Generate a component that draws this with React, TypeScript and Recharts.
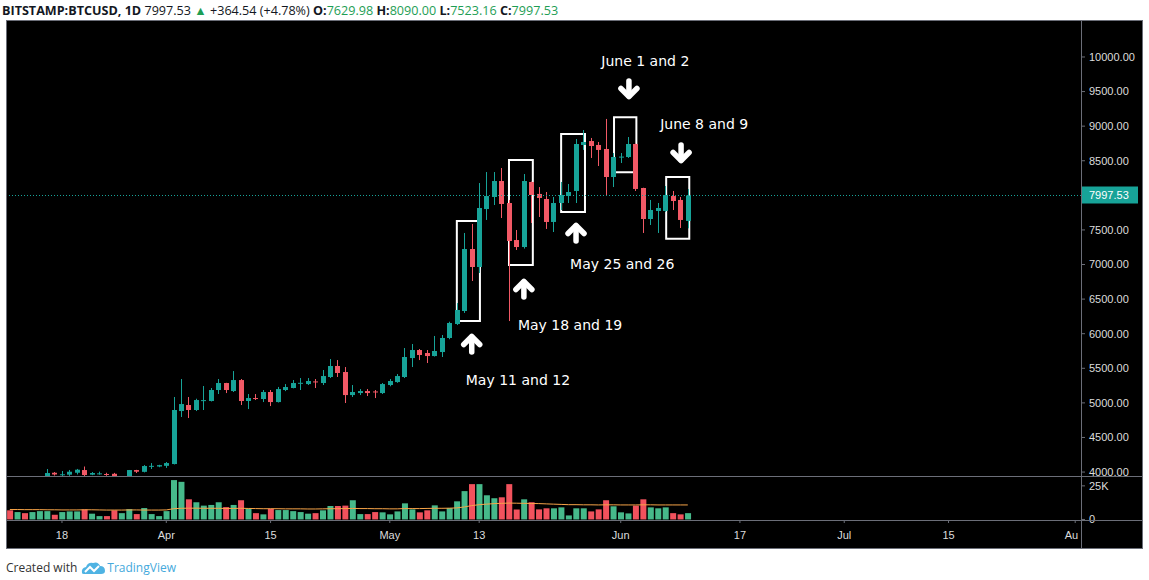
import React from "react";
import {
  ComposedChart,
  Bar,
  Line,
  Cell,
  XAxis,
  YAxis,
  ReferenceArea,
  ReferenceDot,
  ReferenceLine,
} from "recharts";

// daily candles, BITSTAMP:BTCUSD, 2019
const DATES = [
  "03-11", "03-12", "03-13", "03-14", "03-15", "03-16", "03-17", "03-18", "03-19", "03-20",
  "03-21", "03-22", "03-23", "03-24", "03-25", "03-26", "03-27", "03-28", "03-29", "03-30",
  "03-31", "04-01", "04-02", "04-03", "04-04", "04-05", "04-06", "04-07", "04-08", "04-09",
  "04-10", "04-11", "04-12", "04-13", "04-14", "04-15", "04-16", "04-17", "04-18", "04-19",
  "04-20", "04-21", "04-22", "04-23", "04-24", "04-25", "04-26", "04-27", "04-28", "04-29",
  "04-30", "05-01", "05-02", "05-03", "05-04", "05-05", "05-06", "05-07", "05-08", "05-09",
  "05-10", "05-11", "05-12", "05-13", "05-14", "05-15", "05-16", "05-17", "05-18", "05-19",
  "05-20", "05-21", "05-22", "05-23", "05-24", "05-25", "05-26", "05-27", "05-28", "05-29",
  "05-30", "05-31", "06-01", "06-02", "06-03", "06-04", "06-05", "06-06", "06-07", "06-08",
  "06-09", "06-10",
];

const OPEN = [
  3920, 3870, 3880, 3865, 3870, 3915, 3990, 3960, 3962, 3990,
  4029, 3962, 3975, 3972, 3975, 3905, 3925, 4029, 4003, 4085,
  4080, 4090, 4116, 4882, 4969, 4897, 5030, 5027, 5186, 5287,
  5171, 5330, 5027, 5070, 5056, 5157, 5012, 5186, 5215, 5280,
  5272, 5310, 5287, 5374, 5533, 5446, 5113, 5142, 5171, 5165,
  5142, 5258, 5301, 5374, 5648, 5764, 5721, 5677, 5735, 5938,
  6140, 6328, 7224, 6964, 7802, 7976, 8207, 7889, 7354, 7253,
  8193, 8020, 7947, 7615, 7889, 7990, 8063, 8728, 8785, 8728,
  8670, 8265, 8554, 8554, 8742, 8106, 7658, 7774, 7774, 7990,
  7933, 7629.98,
];
const HIGH = [
  3925, 3900, 3890, 3925, 3930, 4044, 4000, 4015, 4030, 4045,
  4080, 4000, 4006, 3990, 3988, 3935, 4030, 4032, 4101, 4130,
  4105, 4145, 5085, 5345, 5085, 5060, 5244, 5215, 5345, 5290,
  5460, 5345, 5128, 5128, 5186, 5186, 5230, 5272, 5330, 5359,
  5359, 5345, 5475, 5634, 5619, 5518, 5258, 5200, 5200, 5186,
  5287, 5345, 5417, 5793, 5851, 5778, 5764, 5967, 5981, 6173,
  6443, 7456, 7586, 8178, 8337, 8337, 8395, 7933, 7499, 8308,
  8200, 8120, 8048, 7976, 8193, 8164, 8814, 8944, 8829, 8771,
  9104, 8612, 8612, 8843, 8750, 8110, 7933, 7889, 8135, 8063,
  7976, 8090,
];
const LOW = [
  3850, 3830, 3850, 3820, 3865, 3910, 3950, 3940, 3945, 3965,
  3940, 3955, 3962, 3945, 3880, 3890, 3920, 3986, 3995, 4044,
  4070, 4060, 4110, 4796, 4781, 4882, 4897, 5020, 5128, 5142,
  5157, 4969, 4911, 5041, 5012, 4954, 5005, 5170, 5210, 5186,
  5258, 5215, 5258, 5359, 5374, 4998, 5085, 5113, 5099, 5070,
  5128, 5240, 5290, 5359, 5518, 5619, 5576, 5670, 5663, 5920,
  6125, 6300, 6762, 6877, 7644, 7860, 7672, 6183, 7210, 7230,
  7600, 7687, 7514, 7470, 7788, 7889, 7889, 8656, 8540, 8424,
  8005, 8120, 8467, 8540, 8063, 7456, 7571, 7456, 7760, 7788,
  7528, 7523.16,
];
const CLOSE = [
  3870, 3880, 3865, 3870, 3915, 3986, 3965, 3968, 4005, 4034,
  3957, 3986, 3981, 3966, 3905, 3925, 4029, 4005, 4087, 4090,
  4100, 4130, 4897, 4983, 4897, 5041, 5040, 5186, 5287, 5186,
  5330, 5027, 5070, 5060, 5157, 5012, 5200, 5229, 5287, 5290,
  5316, 5300, 5388, 5533, 5432, 5113, 5157, 5171, 5142, 5155,
  5272, 5316, 5388, 5663, 5764, 5692, 5677, 5750, 5938, 6155,
  6343, 7224, 6964, 7817, 7990, 8207, 7875, 7340, 7253, 8207,
  8005, 7962, 7615, 7889, 8005, 8048, 8742, 8771, 8713, 8656,
  8265, 8554, 8560, 8742, 8092, 7658, 7788, 7817, 8005, 7918,
  7644, 7997.53,
];
// volume in thousands
const VOLUME = [
  6.8, 5.5, 4.7, 5.5, 6.2, 6.2, 3.5, 5.5, 6.0, 6.0,
  7.5, 4.3, 2.5, 2.5, 6.8, 4.7, 7.7, 4.0, 8.5, 4.0,
  2.5, 6.2, 29.3, 28.0, 15.0, 12.8, 10.3, 10.8, 12.8, 9.2,
  10.8, 14.3, 8.0, 4.7, 3.8, 8.0, 7.0, 7.0, 6.2, 5.5,
  4.3, 4.7, 6.8, 10.0, 10.0, 10.3, 14.3, 4.0, 4.0, 5.5,
  5.3, 3.8, 6.0, 12.0, 7.5, 5.3, 6.8, 10.5, 6.0, 8.5,
  13.5, 21.1, 26.3, 26.3, 18.0, 15.8, 16.5, 26.3, 7.5, 15.0,
  12.8, 7.5, 8.3, 8.3, 9.0, 3.0, 8.3, 8.3, 6.0, 7.5,
  14.3, 9.8, 5.3, 4.5, 10.3, 15.0, 9.0, 8.3, 9.0, 4.7,
  3.8, 4.7,
];
const VOLUME_MA = [
  7.4, 7.4, 7.3, 7.3, 7.3, 7.2, 7.2, 7.1, 7.1, 7.1,
  7.2, 7.2, 7.1, 7.0, 7.0, 7.0, 7.1, 7.1, 7.0, 7.0,
  7.0, 7.1, 8.0, 8.3, 8.4, 8.4, 8.3, 8.3, 8.3, 8.2,
  8.2, 8.3, 8.2, 8.1, 8.0, 8.0, 8.0, 7.9, 7.9, 7.9,
  7.8, 7.8, 7.9, 8.0, 8.0, 8.1, 8.2, 8.1, 8.1, 8.0,
  8.0, 7.9, 7.9, 8.1, 8.1, 8.1, 8.2, 8.3, 8.3, 8.4,
  8.6, 9.3, 10.3, 11.0, 11.4, 11.8, 12.0, 12.2, 12.1, 12.0,
  11.9, 11.8, 11.6, 11.4, 11.2, 11.0, 11.0, 10.9, 10.9, 10.8,
  10.9, 10.9, 10.8, 10.8, 10.8, 10.9, 10.9, 10.8, 10.8, 10.8,
  10.8, 10.8,
];

const LAST_CLOSE = 7997.53;
const PRICE_TICKS = [4000, 4500, 5000, 5500, 6000, 6500, 7000, 7500, 8500, 9000, 9500, 10000];
const VOLUME_TICKS = [0, 25];
const X_TICK_DATES = ["03-18", "04-01", "04-15", "05-01", "05-13", "06-01", "06-17", "07-01", "07-15", "08-01"];
const X_TICK_LABELS = ["18", "Apr", "15", "May", "13", "Jun", "17", "Jul", "15", "Au"];

// annotations (x in days from Mar 18, y in USD)
const BOXES = [
  { x1: 53.0, x2: 56.1, y1: 6183, y2: 7629 },
  { x1: 60.0, x2: 63.2, y1: 6993, y2: 8511 },
  { x1: 67.0, x2: 70.2, y1: 7759, y2: 8887 },
  { x1: 74.1, x2: 77.1, y1: 8333, y2: 9128 },
  { x1: 81.1, x2: 84.2, y1: 7373, y2: 8265 },
];
const ARROWS = [
  { x: 55.0, y: 5851, dir: "up" },
  { x: 62.0, y: 6646, dir: "up" },
  { x: 69.0, y: 7456, dir: "up" },
  { x: 76.1, y: 9537, dir: "down" },
  { x: 83.1, y: 8612, dir: "down" },
];
const NOTES = [
  { x: 61.2, y: 5330, text: "May 11 and 12" },
  { x: 68.2, y: 6125, text: "May 18 and 19" },
  { x: 75.2, y: 7007, text: "May 25 and 26" },
  { x: 78.3, y: 9942, text: "June 1 and 2" },
  { x: 86.2, y: 9031, text: "June 8 and 9" },
];

const UP = "#17a398";
const DOWN = "#f25966";
const VOL_UP = "#46b98a";
const VOL_DOWN = "#f2525d";
const GRID = "#6b6e78";
const AXIS_TEXT = "#dcdcdc";
const AXIS_FONT = '"Liberation Sans", Arial, sans-serif';

const X_DOMAIN: [number, number] = [-7.38, 136.78];
const PRICE_DOMAIN: [number, number] = [3943, 10520];
const VOLUME_DOMAIN: [number, number] = [-0.4, 31.6];

const dayIndex = (md: string) => {
  const [m, d] = md.split("-").map(Number);
  return (Date.UTC(2019, m - 1, d) - Date.UTC(2019, 2, 18)) / 86_400_000;
};

const rows = DATES.map((date, i) => ({
  d: dayIndex(date),
  range: [LOW[i], HIGH[i]],
  o: OPEN[i],
  h: HIGH[i],
  l: LOW[i],
  c: CLOSE[i],
  vol: VOLUME[i],
  ma: VOLUME_MA[i],
}));

const X_TICKS = X_TICK_DATES.map(dayIndex);

function Candle(props: any) {
  const { x, y, width, height, payload } = props;
  if (x == null || y == null || !payload) return null;
  const { o, h, l, c } = payload;
  const color = c >= o ? UP : DOWN;
  const k = h > l ? height / (h - l) : 0;
  const yAt = (v: number) => y + (h - v) * k;
  const top = yAt(Math.max(o, c));
  const bot = yAt(Math.min(o, c));
  const cx = Math.round(x + width / 2) + 0.5;
  return (
    <g>
      <line x1={cx} x2={cx} y1={y} y2={y + height} stroke={color} strokeWidth={1} />
      <rect x={cx - 2.5} y={top} width={5} height={Math.max(1, bot - top)} fill={color} />
    </g>
  );
}

function PriceTick(props: any) {
  const { x, y, payload } = props;
  const v = payload.value;
  if (v === LAST_CLOSE) {
    return (
      <g>
        <rect x={x - 8} y={y - 9} width={57} height={17} fill={UP} />
        <text x={x} y={y} dy="0.35em" fill="#ffffff" fontSize={11} fontFamily={AXIS_FONT}>
          {v.toFixed(2)}
        </text>
      </g>
    );
  }
  return (
    <text x={x} y={y} dy="0.35em" fill={AXIS_TEXT} fontSize={11} fontFamily={AXIS_FONT}>
      {v.toFixed(2)}
    </text>
  );
}

function VolumeTick(props: any) {
  const { x, y, payload } = props;
  return (
    <text x={x} y={y} dy="0.35em" fill={AXIS_TEXT} fontSize={11} fontFamily={AXIS_FONT}>
      {payload.value === 0 ? "0" : `${payload.value}K`}
    </text>
  );
}

function DateTick(props: any) {
  const { x, y, payload, index } = props;
  const last = index === X_TICKS.length - 1;
  return (
    <text
      x={last ? x + 3 : x}
      y={y}
      dy="0.71em"
      textAnchor={last ? "end" : "middle"}
      fill={AXIS_TEXT}
      fontSize={11}
      fontFamily={AXIS_FONT}
    >
      {X_TICK_LABELS[X_TICKS.indexOf(payload.value)]}
    </text>
  );
}

function Arrow(props: any) {
  const { cx, cy, dir } = props;
  if (cx == null || cy == null) return null;
  const s = dir === "up" ? 1 : -1;
  return (
    <g stroke="#ffffff" strokeWidth={5.5} strokeLinecap="round" strokeLinejoin="round" fill="none">
      <polyline points={`${cx - 8},${cy + s * 0.5} ${cx},${cy - s * 7.5} ${cx + 8},${cy + s * 0.5}`} />
      <line x1={cx} y1={cy - s * 7} x2={cx} y2={cy + s * 8} />
    </g>
  );
}

function Note(props: any) {
  const { cx, cy, text } = props;
  if (cx == null || cy == null) return null;
  return (
    <text
      x={cx}
      y={cy}
      textAnchor="middle"
      dominantBaseline="central"
      fill="#ffffff"
      fontSize={14}
      fontFamily='"DejaVu Sans", sans-serif'
    >
      {text}
    </text>
  );
}

function Header() {
  const green = "#1e9e55";
  return (
    <div
      style={{
        position: "absolute",
        left: 2,
        top: 2,
        fontFamily: '"Open Sans", sans-serif',
        fontSize: 12.6,
        color: "#131722",
        whiteSpace: "nowrap",
        lineHeight: "17px",
      }}
    >
      <b>BITSTAMP:BTCUSD, 1D</b> 7997.53 <span style={{ color: green }}>▲</span> +364.54 (+4.78%){" "}
      <b>O:</b><span style={{ color: green }}>7629.98</span> <b>H:</b>
      <span style={{ color: green }}>8090.00</span> <b>L:</b>
      <span style={{ color: green }}>7523.16</span> <b>C:</b>
      <span style={{ color: green }}>7997.53</span>
    </div>
  );
}

function Footer() {
  return (
    <div
      style={{
        position: "absolute",
        left: 6,
        top: 559,
        display: "flex",
        alignItems: "center",
        fontFamily: '"Open Sans", sans-serif',
        fontSize: 12,
        color: "#333",
        whiteSpace: "nowrap",
      }}
    >
      <span>Created with</span>
      <svg width={26} height={16} style={{ marginLeft: 3, marginRight: 1 }}>
        <path
          d="M2 13 Q1 8 6 7 Q8 2 13 3 Q18 1 20 6 Q25 6 25 11 Q25 14 21 14 L4 14 Q2 14 2 13 Z"
          fill="#4fb3e3"
        />
        <polyline points="5,12 10,7 14,11 19,6" stroke="#ffffff" strokeWidth={2} fill="none" />
      </svg>
      <span style={{ color: "#45a9dc" }}>TradingView</span>
    </div>
  );
}

export default function App() {
  return (
    <div
      style={{
        position: "absolute",
        left: 0,
        top: 0,
        width: 1149,
        height: 580,
        background: "#ffffff",
        overflow: "hidden",
      }}
    >
      <Header />
      <div style={{ position: "absolute", left: 7, top: 21, width: 1135, height: 527, background: "#000000" }}>
        {/* price pane */}
        <div style={{ position: "absolute", left: 0, top: 0 }}>
          <ComposedChart width={1135} height={455} data={rows} margin={{ top: 0, right: 0, bottom: 0, left: 0 }}>
            <XAxis type="number" dataKey="d" domain={X_DOMAIN} allowDataOverflow hide />
            <YAxis
              orientation="right"
              width={61}
              domain={PRICE_DOMAIN}
              allowDataOverflow
              ticks={[...PRICE_TICKS, LAST_CLOSE]}
              interval={0}
              axisLine={false}
              tickLine={{ stroke: GRID }}
              tickSize={4}
              tickMargin={4}
              tick={<PriceTick />}
            />
            <ReferenceLine y={LAST_CLOSE} stroke={UP} strokeDasharray="1 2" />
            <Bar dataKey="range" barSize={5} isAnimationActive={false} shape={(p: any) => <Candle {...p} />} />
            {BOXES.map((b, i) => (
              <ReferenceArea
                key={`box-${i}`}
                x1={b.x1}
                x2={b.x2}
                y1={b.y1}
                y2={b.y2}
                stroke="#ffffff"
                strokeWidth={2}
                fill="none"
                fillOpacity={0}
              />
            ))}
            {ARROWS.map((a, i) => (
              <ReferenceDot key={`arrow-${i}`} x={a.x} y={a.y} shape={(p: any) => <Arrow {...p} dir={a.dir} />} />
            ))}
            {NOTES.map((n, i) => (
              <ReferenceDot key={`note-${i}`} x={n.x} y={n.y} shape={(p: any) => <Note {...p} text={n.text} />} />
            ))}
          </ComposedChart>
        </div>
        {/* volume pane + time axis */}
        <div style={{ position: "absolute", left: 0, top: 456 }}>
          <ComposedChart width={1135} height={71} data={rows} margin={{ top: 0, right: 0, bottom: 0, left: 0 }}>
            <XAxis
              type="number"
              dataKey="d"
              domain={X_DOMAIN}
              allowDataOverflow
              ticks={X_TICKS}
              interval={0}
              height={28}
              axisLine={false}
              tickLine={{ stroke: GRID }}
              tickSize={3}
              tickMargin={8}
              tick={<DateTick />}
            />
            <YAxis
              orientation="right"
              width={61}
              domain={VOLUME_DOMAIN}
              allowDataOverflow
              ticks={VOLUME_TICKS}
              interval={0}
              axisLine={false}
              tickLine={{ stroke: GRID }}
              tickSize={4}
              tickMargin={4}
              tick={<VolumeTick />}
            />
            <Bar dataKey="vol" barSize={6} isAnimationActive={false}>
              {rows.map((r, i) => (
                <Cell key={i} fill={r.c >= r.o ? VOL_UP : VOL_DOWN} />
              ))}
            </Bar>
            <Line dataKey="ma" stroke="#f7a448" strokeWidth={1} dot={false} isAnimationActive={false} />
          </ComposedChart>
        </div>
        {/* pane separators and frame */}
        <div style={{ position: "absolute", left: 0, top: 455, width: 1135, height: 1, background: GRID }} />
        <div style={{ position: "absolute", left: 0, top: 499, width: 1135, height: 1, background: GRID }} />
        <div style={{ position: "absolute", left: 1074, top: 0, width: 1, height: 527, background: GRID }} />
        <div
          style={{
            position: "absolute",
            left: -1,
            top: -1,
            width: 1135,
            height: 527,
            border: `1px solid ${GRID}`,
            pointerEvents: "none",
          }}
        />
      </div>
      <Footer />
    </div>
  );
}
